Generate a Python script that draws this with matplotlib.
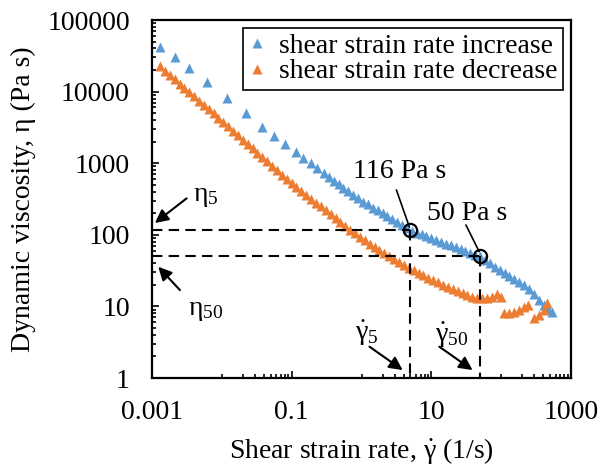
import matplotlib
matplotlib.use('Agg')
import matplotlib.pyplot as plt
from matplotlib.ticker import FixedLocator, FixedFormatter, NullFormatter

plt.rcParams['font.family'] = ['Liberation Serif', 'DejaVu Serif']
plt.rcParams['mathtext.fontset'] = 'custom'
plt.rcParams['mathtext.rm'] = 'Liberation Serif'
plt.rcParams['mathtext.it'] = 'Liberation Serif:italic'
plt.rcParams['mathtext.default'] = 'rm'
plt.rcParams['font.size'] = 20

#### data
rate_up = [0.0013, 0.0021, 0.0034, 0.0062, 0.0119, 0.022, 0.038, 0.056, 0.080, 0.114,
           0.145, 0.187, 0.233, 0.287, 0.341, 0.40, 0.47, 0.55, 0.65, 0.76, 0.89, 1.05,
           1.23, 1.45, 1.7, 2.0, 2.35, 2.76, 3.24, 3.8, 4.47, 5.25, 6.17, 7.25, 8.5, 10,
           11.7, 13.8, 16.2, 19, 22.3, 26.2, 30.8, 36.2, 42.5, 50, 58.7, 69, 81, 95, 112,
           131, 154, 181, 213, 250, 294, 345, 405, 476, 540]
visc_up = [41600, 30700, 21100, 13500, 8060, 5070, 3240, 2420, 1840, 1420,
           1170, 998, 849, 723, 635, 569, 508, 455, 405, 362, 325, 291,
           265, 240, 219, 199, 181, 164, 150, 136, 124, 114, 107, 101, 95.5, 90,
           85, 80, 75.5, 71.2, 67.1, 63.3, 59.7, 56.3, 53.0, 50, 44.7, 39.9, 35.7, 31.9, 29.0,
           26.5, 24.2, 22.1, 19.8, 17.6, 15.0, 12.4, 10.6, 9.06, 8.3]

rate_down = [0.0013, 0.00153, 0.0018, 0.0021, 0.0025, 0.0029, 0.0034, 0.004, 0.0047, 0.0055,
             0.0065, 0.0076, 0.0089, 0.0105, 0.0123, 0.0145, 0.017, 0.02, 0.0235, 0.0276,
             0.0324, 0.038, 0.0447, 0.0525, 0.0617, 0.0725, 0.085, 0.1, 0.117, 0.138,
             0.162, 0.19, 0.223, 0.262, 0.308, 0.362, 0.425, 0.5, 0.587, 0.69,
             0.81, 0.95, 1.12, 1.31, 1.54, 1.81, 2.13, 2.5, 2.94, 3.45,
             4.05, 4.76, 5.6, 6.6, 7.7, 9.1, 10.7, 12.5, 14.7, 17.3,
             20.3, 23.8, 28, 32.9, 38.6, 45.4, 53.3, 62.6, 73.6, 86.4, 100,
             110, 130, 153, 181, 213, 245,
             296, 349, 411, 459]
visc_down = [22700, 19700, 17100, 15000, 12900, 11370, 9910, 8610, 7500, 6550,
             5660, 4950, 4320, 3750, 3270, 2840, 2475, 2140, 1860, 1615,
             1401, 1219, 1057, 918, 796, 691, 601, 524, 464, 408,
             361, 319, 282, 249, 219.5, 194, 171, 151, 133, 117.6,
             105, 93.9, 83.7, 75, 67, 60.7, 55.3, 50.4, 45.9, 41.8,
             38.1, 34.7, 32.0, 29.6, 27.4, 25.2, 23.3, 21.6, 20.2, 18.9,
             17.6, 16.5, 15.4, 14.4, 13.5, 13.2, 13.0, 13.1, 13.5, 14.8, 13.6,
             8.2, 8.2, 8.4, 8.9, 9.9, 10.5,
             6.8, 7.6, 8.9, 11.0]

x_ticks = [0.001, 0.1, 10, 1000]
x_labels = ['0.001', '0.1', '10', '1000']
y_ticks = [1, 10, 100, 1000, 10000, 100000]
y_labels = ['1', '10', '100', '1000', '10000', '100000']

gamma5, eta5 = 5, 116
gamma50, eta50 = 50, 50

blue = '#5B9BD5'
orange = '#ED7D31'

fig = plt.figure(figsize=(6.01, 4.69), dpi=100)
ax = fig.add_axes([152 / 601, 1 - 378 / 469, 419 / 601, 358 / 469])
ax.set_xscale('log')
ax.set_yscale('log')
ax.set_xlim(0.001, 1000)
ax.set_ylim(1, 100000)

ax.plot(rate_up, visc_up, ls='none', marker='^', ms=7, color=blue, mec='none',
        label='shear strain rate increase')
ax.plot(rate_down, visc_down, ls='none', marker='^', ms=7, color=orange, mec='none',
        label='shear strain rate decrease')

#### dashed guide lines and circles
dash = dict(color='k', lw=1.5, dashes=(5, 3))
ax.plot([0.001, gamma5], [eta5, eta5], **dash)
ax.plot([gamma5, gamma5], [eta5, 1], **dash)
ax.plot([0.001, gamma50], [eta50, eta50], **dash)
ax.plot([gamma50, gamma50], [eta50, 1], **dash)
ax.plot([gamma5, gamma50], [eta5, eta50], ls='none', marker='o', ms=9.5,
        mfc='none', mec='k', mew=1.6)

#### annotations
arr = dict(arrowstyle='-|>', color='k', lw=1.5, mutation_scale=20, shrinkA=0, shrinkB=0)
line = dict(arrowstyle='-', color='k', lw=1.2, shrinkA=0, shrinkB=0)

ax.annotate('', xy=(0.0011, 146), xytext=(0.00313, 323), arrowprops=arr)
ax.text(0.0059, 348, r'$\eta_5$', ha='center', va='center')
ax.annotate('', xy=(0.00123, 35.8), xytext=(0.00251, 16.9), arrowprops=arr)
ax.text(0.0059, 8.9, r'$\eta_{50}$', ha='center', va='center')
ax.annotate('', xy=(3.89, 1.29), xytext=(1.30, 2.74), arrowprops=arr)
ax.text(1.18, 4.25, r'$\dot{\gamma}_5$', ha='center', va='center')
ax.annotate('', xy=(38.9, 1.29), xytext=(13.0, 2.74), arrowprops=arr)
ax.text(19.3, 4.0, r'$\dot{\gamma}_{50}$', ha='center', va='center')

ax.text(3.49, 778, '116 Pa s', ha='center', va='center')
ax.annotate('', xy=(4.85, 128.5), xytext=(3.16, 423), arrowprops=line)
ax.text(32.7, 201, '50 Pa s', ha='center', va='center')
ax.annotate('', xy=(48.5, 58), xytext=(31.3, 137), arrowprops=line)

#### axes styling
ax.xaxis.set_major_locator(FixedLocator(x_ticks))
ax.xaxis.set_major_formatter(FixedFormatter(x_labels))
ax.xaxis.set_minor_locator(FixedLocator([k * 10.0 ** e for e in (-2, 0, 2) for k in range(1, 10)]))
ax.xaxis.set_minor_formatter(NullFormatter())
ax.yaxis.set_major_locator(FixedLocator(y_ticks))
ax.yaxis.set_major_formatter(FixedFormatter(y_labels))
ax.yaxis.set_minor_locator(FixedLocator([k * 10.0 ** e for e in range(0, 5) for k in range(2, 10)]))
ax.yaxis.set_minor_formatter(NullFormatter())

ax.tick_params(which='both', direction='in', top=False, right=False, width=1.2)
ax.tick_params(which='major', length=5, pad=16)
ax.tick_params(which='minor', length=3)
for s in ax.spines.values():
    s.set_linewidth(1.6)

ax.set_xlabel(r'Shear strain rate, $\dot{\gamma}$ (1/s)', labelpad=8)
ax.set_ylabel('Dynamic viscosity, η (Pa s)', labelpad=8)

leg = ax.legend(loc='upper right', bbox_to_anchor=(0.981, 0.978), borderaxespad=0,
                fancybox=False, framealpha=1, edgecolor='k', handlelength=0.6,
                handletextpad=0.5, borderpad=0.2, labelspacing=0.0)
leg.get_frame().set_linewidth(1.2)

fig.savefig('out.png', dpi=100)
